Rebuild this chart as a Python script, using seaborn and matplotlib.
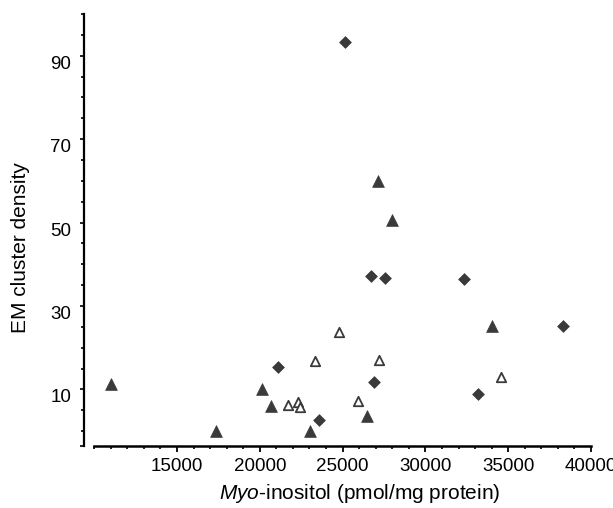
import numpy as np
import pandas as pd
import seaborn as sns
import matplotlib
matplotlib.use("Agg")
import matplotlib.pyplot as plt
from matplotlib.ticker import FixedLocator, NullFormatter
from matplotlib.transforms import ScaledTranslation

# Myo-inositol (pmol/mg protein) vs EM cluster density, three groups
tri_filled_x = [11000, 17340, 20130, 20660, 23030, 26490, 27120, 27970, 34000]
tri_filled_y = [11.4, 0.0, 10.2, 6.1, 0.0, 3.6, 59.9, 50.7, 25.2]

tri_open_x = [21720, 22330, 22430, 23350, 24780, 25910, 27200, 34550]
tri_open_y = [6.2, 6.9, 5.7, 16.7, 23.8, 7.3, 17.0, 13.0]

diamond_x = [21120, 23560, 25160, 26730, 26880, 27580, 32350, 33200, 38330]
diamond_y = [15.3, 2.6, 93.4, 37.3, 11.8, 36.7, 36.5, 8.8, 25.1]

x_major = [15000, 20000, 25000, 30000, 35000, 40000]
x_labels = ["15000", "20000", "25000", "30000", "35000", "40000"]
y_major = [10, 30, 50, 70, 90]
y_labels = ["10", "30", "50", "70", "90"]

sns.set_theme(style="ticks")
plt.rcParams["font.family"] = ["Liberation Sans", "DejaVu Sans"]
plt.rcParams["mathtext.fontset"] = "custom"
plt.rcParams["mathtext.it"] = "Liberation Sans:italic"
plt.rcParams["mathtext.rm"] = "Liberation Sans"

dark = "#3a3a3a"
fs = 13.5
fs_label = 15

fig = plt.figure(figsize=(6.13, 5.08), dpi=100)
ax = fig.add_axes([0.1370, 0.1226, 0.8271, 0.8498])

df_tf = pd.DataFrame({"x": tri_filled_x, "y": tri_filled_y})
df_to = pd.DataFrame({"x": tri_open_x, "y": tri_open_y})
df_d = pd.DataFrame({"x": diamond_x, "y": diamond_y})

sns.scatterplot(data=df_tf, x="x", y="y", marker="^", s=72, color=dark,
                edgecolor=dark, linewidth=0.5, ax=ax, zorder=3)
sns.scatterplot(data=df_to, x="x", y="y", marker="^", s=46, color="white",
                edgecolor=dark, linewidth=1.3, ax=ax, zorder=3)
sns.scatterplot(data=df_d, x="x", y="y", marker="D", s=36, color=dark,
                edgecolor=dark, linewidth=0.5, ax=ax, zorder=3)

ax.set_xlim(9384, 40000)
ax.set_ylim(-3.5, 100)

for side in ("top", "right"):
    ax.spines[side].set_visible(False)
ax.spines["left"].set_linewidth(1.6)
ax.spines["bottom"].set_linewidth(1.8)
ax.spines["left"].set_color("black")
ax.spines["bottom"].set_color("black")
ax.spines["left"].set_bounds(-3.5, 100)
ax.spines["bottom"].set_bounds(10000, 40000)

# x ticks: labelled every 5000, small ticks every 1000
ax.xaxis.set_major_locator(FixedLocator(x_major))
ax.set_xticklabels(x_labels)
ax.xaxis.set_minor_locator(FixedLocator(list(range(10000, 40001, 1000))))
ax.xaxis.set_minor_formatter(NullFormatter())

# y ticks: labelled at 10, 30, ..., small ticks every 5
ax.yaxis.set_major_locator(FixedLocator(y_major + [-3.5]))
ax.set_yticklabels(y_labels + [""])
ax.yaxis.set_minor_locator(FixedLocator([v for v in range(0, 101, 5) if v not in y_major]))
ax.yaxis.set_minor_formatter(NullFormatter())

ax.tick_params(axis="x", which="major", length=4.5, width=1.3, pad=4.5,
               labelsize=fs, color="black", labelcolor="black")
ax.tick_params(axis="x", which="minor", length=2.5, width=1.2, color="black")
ax.tick_params(axis="y", which="major", length=3, width=1.2, pad=6,
               labelsize=fs, color="black", labelcolor="black")
ax.tick_params(axis="y", which="minor", length=2.5, width=1.2, color="black")

# y tick labels sit slightly below their ticks
shift = ScaledTranslation(0, -6.5 / 100, fig.dpi_scale_trans)
for lab in ax.get_yticklabels():
    lab.set_transform(lab.get_transform() + shift)

ax.set_xlabel(r"$\it{Myo}$-inositol (pmol/mg protein)", fontsize=fs_label, color="black")
ax.set_ylabel("EM cluster density", fontsize=fs_label, color="black")
ax.xaxis.set_label_coords(0.543, -0.111)
ax.xaxis.label.set_verticalalignment("center")
ax.yaxis.set_label_coords(-0.126, 0.458)
ax.yaxis.label.set_verticalalignment("center")

fig.savefig("out.png", dpi=100)
